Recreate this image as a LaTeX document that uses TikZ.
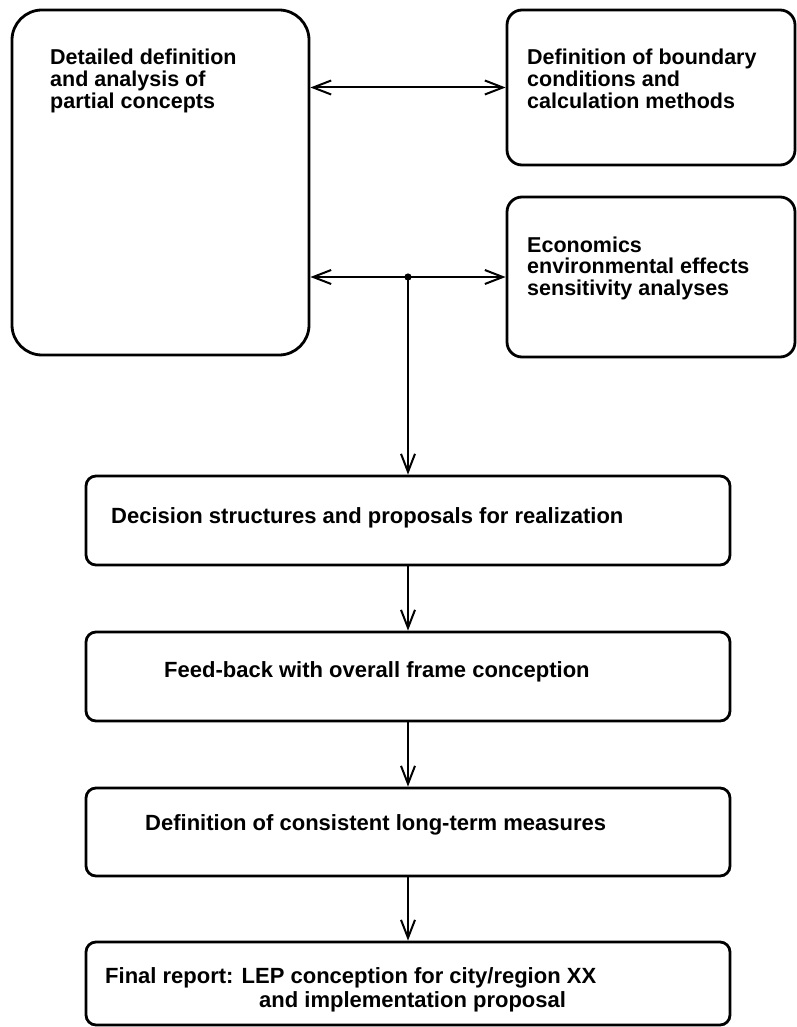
\documentclass[tikz,border=0pt]{standalone}
\usepackage{fontspec}
\setmainfont{Liberation Sans}
\usetikzlibrary{arrows.meta}
\begin{document}
\begin{tikzpicture}[x=1pt,y=-1pt,
  box/.style={draw, line width=2.8pt, rounded corners=#1, inner sep=0pt},
  box/.default=10pt,
  % multi-line labels are placed by the baseline of their last line
  toptext/.style={anchor=base west, inner sep=0pt, align=left,
    font=\bfseries\fontsize{21.5}{21.7}\selectfont},
  lowtext/.style={anchor=base west, inner sep=0pt, align=left,
    font=\bfseries\fontsize{22}{24}\selectfont},
  barb/.tip={Straight Barb[length=18pt,width=14pt,line width=2pt]},
  link/.style={line width=2pt, -barb},
  twoway/.style={line width=2pt, barb-barb}
]
\useasboundingbox (0,0) rectangle (796,1027);

% upper row
\node[box=30pt, minimum width=297pt, minimum height=345pt] (big)   at (160.5,182.5) {};
\node[box=15pt, minimum width=288pt, minimum height=155pt] (bound) at (651,87.5) {};
\node[box=15pt, minimum width=288pt, minimum height=160pt] (econ)  at (651,277) {};

% main sequence
\node[box, minimum width=644pt, minimum height=89pt] (dec) at (408,520.5) {};
\node[box, minimum width=644pt, minimum height=89pt] (fb)  at (408,676.5) {};
\node[box, minimum width=644pt, minimum height=88pt] (def) at (408,832) {};
\node[box, minimum width=644pt, minimum height=83pt] (fin) at (408,983.5) {};

% texts
\node[toptext] (tbig)   at (50,108.4)  {Detailed definition\\and analysis of\\partial concepts};
\node[toptext] (tbound) at (527,108.4) {Definition of boundary\\conditions and\\calculation methods};
\node[toptext] (tecon)  at (527,295.4) {Economics\\environmental effects\\sensitivity analyses};
\node[lowtext] (tdec) at (111,523) {Decision structures and proposals for realization};
\node[lowtext] (tfb)  at (164,677) {Feed-back with overall frame conception};
\node[lowtext] (tdef) at (145,830) {Definition of consistent long-term measures};
\node[lowtext] (tfin) at (105,1007) {Final report: LEP conception for city/region XX\\\hspace*{154pt}and implementation proposal};

% connectors
\draw[twoway] (bound.west -| big.east) -- (bound.west);
\coordinate (j) at (econ.west -| dec.north);
\draw[twoway] (econ.west -| big.east) -- (econ.west);
\fill (j) circle (3.6pt);
\draw[link] (j) -- (dec.north);
\draw[link] (dec.south) -- (fb.north);
\draw[link] (fb.south) -- (def.north);
\draw[link] (def.south) -- (fin.north);
\end{tikzpicture}
\end{document}
